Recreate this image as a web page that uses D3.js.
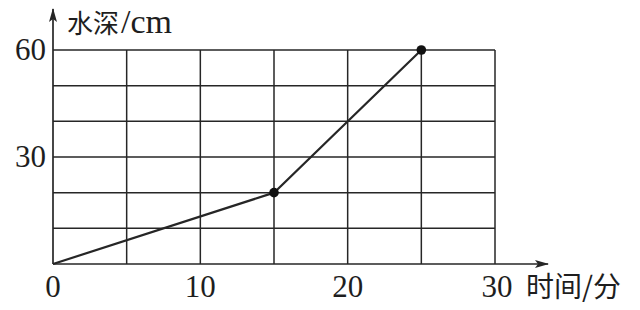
<!DOCTYPE html>
<html>
<head>
<meta charset="utf-8">
<script src="https://cdn.jsdelivr.net/npm/d3@7"></script>
<style>
  body { margin: 0; background: #fff; }
  text { font-family: "Liberation Serif", "DejaVu Serif", serif; fill: #1e1e1e; }
  .cjk { font-family: "Noto Sans CJK SC", sans-serif; }
</style>
</head>
<body>
<div id="chart"></div>
<script>
// data
const timeVals = [0, 15, 25];
const depthVals = [0, 20, 60];
const xTickLabels = [0, 10, 20, 30];
const yTickLabels = [30, 60];
const xGrid = [0, 5, 10, 15, 20, 25, 30];
const yGrid = [0, 10, 20, 30, 40, 50, 60];

const width = 640, height = 310;
const svg = d3.select("#chart").append("svg")
    .attr("width", width)
    .attr("height", height);

const x = d3.scaleLinear().domain([0, 30]).range([53, 495]);
const y = d3.scaleLinear().domain([0, 60]).range([264, 50]);

const ink = "#262626";

// grid
svg.append("g").selectAll("line")
    .data(xGrid.slice(1))
    .enter().append("line")
    .attr("x1", d => x(d)).attr("x2", d => x(d))
    .attr("y1", y(0)).attr("y2", y(60))
    .attr("stroke", ink).attr("stroke-width", 1.5);

svg.append("g").selectAll("line")
    .data(yGrid.slice(1))
    .enter().append("line")
    .attr("x1", x(0)).attr("x2", x(30))
    .attr("y1", d => y(d)).attr("y2", d => y(d))
    .attr("stroke", ink).attr("stroke-width", 1.5);

// axes with arrows
svg.append("defs").append("marker")
    .attr("id", "arrow")
    .attr("viewBox", "0 0 14 10")
    .attr("refX", 13).attr("refY", 5)
    .attr("markerWidth", 14).attr("markerHeight", 10)
    .attr("markerUnits", "userSpaceOnUse")
    .attr("orient", "auto")
    .append("path").attr("d", "M0,1 L14,5 L0,9 L3,5 Z").attr("fill", ink);

svg.append("line")
    .attr("x1", x(0)).attr("x2", 548)
    .attr("y1", y(0)).attr("y2", y(0))
    .attr("stroke", ink).attr("stroke-width", 1.7)
    .attr("marker-end", "url(#arrow)");

svg.append("line")
    .attr("x1", x(0)).attr("x2", x(0))
    .attr("y1", y(0)).attr("y2", 9)
    .attr("stroke", ink).attr("stroke-width", 1.7)
    .attr("marker-end", "url(#arrow)");

// tick labels
svg.append("g").selectAll("text")
    .data(xTickLabels)
    .enter().append("text")
    .attr("x", d => d === 30 ? x(d) + 2 : x(d))
    .attr("y", 297)
    .attr("text-anchor", "middle")
    .attr("font-size", 31)
    .text(d => d);

svg.append("g").selectAll("text")
    .data(yTickLabels)
    .enter().append("text")
    .attr("x", 46)
    .attr("y", d => y(d) + 10)
    .attr("text-anchor", "end")
    .attr("font-size", 31)
    .text(d => d);

// axis titles
const yTitle = svg.append("text")
    .attr("x", 67).attr("y", 33);
yTitle.append("tspan").attr("class", "cjk").attr("font-size", 26).text("水深");
yTitle.append("tspan").attr("font-size", 34).attr("dx", 2).text("/cm");

svg.append("text")
    .attr("class", "cjk")
    .attr("x", 526).attr("y", 297)
    .attr("font-size", 28)
    .text("时间/分");

// line
const pts = timeVals.map((t, i) => [t, depthVals[i]]);
svg.append("path")
    .datum(pts)
    .attr("fill", "none")
    .attr("stroke", ink)
    .attr("stroke-width", 2.2)
    .attr("d", d3.line().x(d => x(d[0])).y(d => y(d[1])));

svg.append("g").selectAll("circle")
    .data(pts.slice(1))
    .enter().append("circle")
    .attr("cx", d => x(d[0]))
    .attr("cy", d => y(d[1]))
    .attr("r", 4.8)
    .attr("fill", "#111");
</script>
</body>
</html>
